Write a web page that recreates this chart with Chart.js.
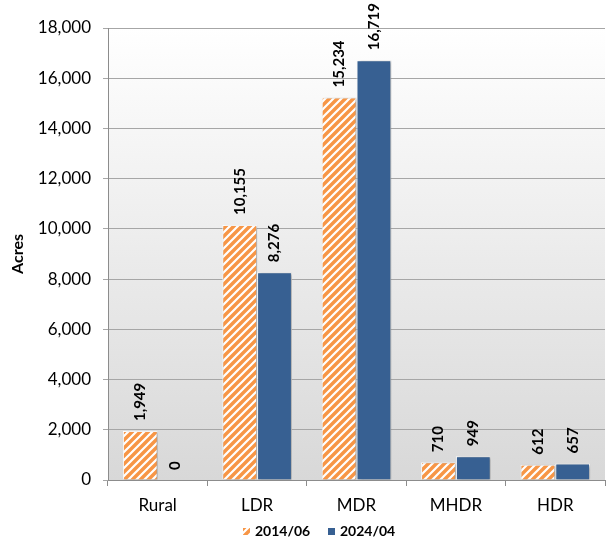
<!DOCTYPE html>
<html>
<head>
<meta charset="utf-8">
<script src="https://cdn.jsdelivr.net/npm/chart.js@4/dist/chart.umd.min.js"></script>
<style>
  html, body { margin: 0; padding: 0; background: #fff; }
  #wrap { width: 606px; height: 542px; }
</style>
</head>
<body>
<div id="wrap"><canvas id="acresChart" width="606" height="542"></canvas></div>
<script>
// values
const categories = ['Rural', 'LDR', 'MDR', 'MHDR', 'HDR'];
const seriesNames = ['2014/06', '2024/04'];
const acres2014 = [1949, 10155, 15234, 710, 612];
const acres2024 = [0, 8276, 16719, 949, 657];
const yMax = 18000;
const yStep = 2000;

const FONT = 'Lato, "Open Sans", sans-serif';
const ORANGE = '#F79646';
const BLUE = '#376092';

// orange with white diagonal stripes
function makeHatch() {
    const c = document.createElement('canvas');
    c.width = 8; c.height = 8;
    const g = c.getContext('2d');
    g.fillStyle = ORANGE;
    g.fillRect(0, 0, 8, 8);
    g.strokeStyle = '#fff';
    g.lineWidth = 2.2;
    g.beginPath();
    g.moveTo(-2, 10); g.lineTo(10, -2);
    g.moveTo(-6, 6); g.lineTo(6, -6);
    g.moveTo(2, 14); g.lineTo(14, 2);
    g.stroke();
    return c;
}
const ctx = document.getElementById('acresChart').getContext('2d');
const hatch = ctx.createPattern(makeHatch(), 'repeat');

const chartDecor = {
    id: 'chartDecor',
    beforeDraw(chart) {
        const a = chart.chartArea, c = chart.ctx;
        const grad = c.createLinearGradient(0, a.top, 0, a.bottom);
        grad.addColorStop(0, '#FFFFFF');
        grad.addColorStop(1, '#D8D8D8');
        c.save();
        c.fillStyle = grad;
        c.fillRect(a.left, a.top, a.right - a.left, a.bottom - a.top);
        c.restore();
    },
    beforeDatasetsDraw(chart) {
        const c = chart.ctx;
        c.save();
        c.shadowColor = 'rgba(0,0,0,0.35)';
        c.shadowBlur = 3;
        c.shadowOffsetX = 2;
        c.shadowOffsetY = 1;
    },
    afterDatasetsDraw(chart) {
        const c = chart.ctx;
        c.restore();
        // value labels, rotated
        c.save();
        c.fillStyle = '#000';
        c.font = 'bold 15px ' + FONT;
        c.textAlign = 'left';
        c.textBaseline = 'middle';
        chart.data.datasets.forEach((ds, i) => {
            chart.getDatasetMeta(i).data.forEach((bar, j) => {
                c.save();
                c.translate(bar.x, bar.y - 10);
                c.rotate(-Math.PI / 2);
                c.fillText(ds.data[j].toLocaleString('en-US'), 0, 0);
                c.restore();
            });
        });
        c.restore();
    },
    afterDraw(chart) {
        // legend at the bottom
        const c = chart.ctx;
        const items = [
            { x: 243, fill: hatch, label: seriesNames[0] },
            { x: 328, fill: BLUE, label: seriesNames[1] }
        ];
        c.save();
        c.font = 'bold 14px ' + FONT;
        c.textBaseline = 'middle';
        c.fillStyle = '#000';
        items.forEach(it => {
            c.fillStyle = it.fill;
            c.fillRect(it.x, 528, 7, 7);
            c.fillStyle = '#000';
            c.fillText(it.label, it.x + 12, 531.5);
        });
        c.restore();
    }
};

new Chart(ctx, {
    type: 'bar',
    data: {
        labels: categories,
        datasets: [
            { label: seriesNames[0], data: acres2014, backgroundColor: hatch, borderColor: '#fff', borderWidth: 1 },
            { label: seriesNames[1], data: acres2024, backgroundColor: BLUE, borderColor: '#fff', borderWidth: 1 }
        ]
    },
    options: {
        responsive: false,
        animation: false,
        categoryPercentage: 0.7,
        barPercentage: 1.0,
        layout: { padding: { top: 28, right: 1, left: 0, bottom: 0 } },
        plugins: {
            legend: { display: false },
            tooltip: { enabled: false }
        },
        scales: {
            x: {
                afterFit: (s) => { s.height = 62; },
                grid: { display: true, drawOnChartArea: false, drawTicks: true, tickLength: 6, color: '#8C8C8C', offset: true },
                border: { color: '#8C8C8C' },
                ticks: { color: '#000', font: { family: FONT, size: 17 }, padding: 9 }
            },
            y: {
                min: 0,
                max: yMax,
                afterFit: (s) => { s.width = 108; },
                title: { display: true, text: 'Acres', color: '#000', font: { family: FONT, size: 16, weight: 'bold' }, padding: { top: 8, bottom: 0 } },
                grid: { color: '#A6A6A6', tickLength: 5 },
                border: { color: '#8C8C8C' },
                ticks: {
                    stepSize: yStep,
                    color: '#000',
                    padding: 12,
                    font: { family: FONT, size: 17 },
                    callback: (v) => v.toLocaleString('en-US')
                }
            }
        }
    },
    plugins: [chartDecor]
});
</script>
</body>
</html>
